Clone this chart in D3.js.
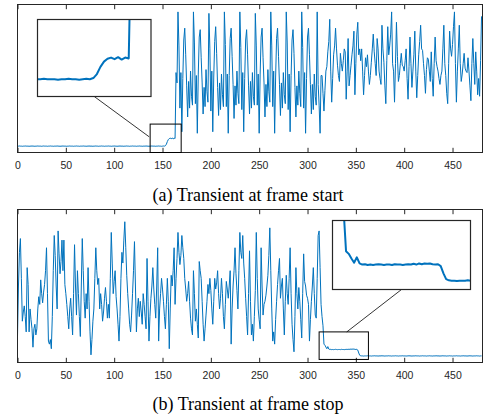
<!DOCTYPE html>
<html>
<head>
<meta charset="utf-8">
<script src="https://cdn.jsdelivr.net/npm/d3@7"></script>
<style>
  body { margin: 0; background: #fff; }
</style>
</head>
<body>
<div id="canvas"></div>
<script>
// sample index runs 0..480, amplitude on a 0..100 scale
const xTicks = [0, 50, 100, 150, 200, 250, 300, 350, 400, 450];
const captions = ["(a) Transient at frame start", "(b) Transient at frame stop"];

// (a) frame start
const startFlat = [
  4.3,4.3,4.4,4.3,4.3,4.2,4.3,4.3,4.4,4.3,4.3,4.3,4.2,4.3,4.3,4.4,4.3,
  4.3,4.2,4.3,4.3,4.4,4.3,4.3,4.3,4.2,4.3,4.4,4.3,4.3,4.3,4.2,4.3,4.3,
  4.4,4.3,4.3,4.2,4.3,4.3,4.3,4.4,4.3,4.3,4.2,4.3,4.3,4.4,4.3,4.3,4.3,
  4.2,4.3,4.3,4.4,4.3,4.3,4.3,4.2,4.3,4.3,4.4,4.3,4.3,4.2,4.3,4.3,4.3,
  4.4,4.3,4.3,4.2,4.3,4.3,4.4,4.3,4.3,4.3,4.2,4.3,4.3,4.4,4.3,4.3,4.2,
  4.3,4.3,4.4,4.3,4.3,4.2,4.3,4.3,4.3,4.4,4.3,4.3,4.2,4.3,4.3,4.4,4.3,
  4.3,4.2,4.3,4.3,4.4,4.3,4.3,4.3,4.2,4.3,4.3,4.4,4.3,4.3,4.2,4.3,4.3,
  4.4,4.3,4.3,4.3,4.2,4.3,4.3,4.4,4.3,4.3,4.2,4.3,4.3,4.3,4.4,4.3,4.3,
  4.2,4.3,4.3,4.4,4.3,4.3,4.3,4.2,4.3,4.3,4.4,4.3,4.3,4.2,4.3,4.4,4.3
];
const startRise = [4.6,5.6,7.4,8.7,9.4,9.7,9.3,9.8,9.2,9.7,9.5,54,47];
const startBurst = [
  95,72,30,54,14,50,76,84,66,45,24,48,30,55,38,32,
  95,74,33,52,13,53,78,83,64,47,26,44,31,56,41,34,
  94,70,28,55,14,51,75,85,67,44,25,47,29,53,39,31,
  95,73,31,53,13,52,77,84,65,46,23,45,32,55,40,33,
  95,71,29,54,14,50,76,83,66,45,26,48,30,54,38,32,
  94,72,32,53,13,53,78,84,64,47,24,46,31,56,41,34,
  95,72,31,55,13,51,77,84,65,46,25,47,30,54,39,33,
  95,74,29,53,14,52,76,83,67,44,24,45,32,55,40,31,
  95,71,30,54,13,50,78,84,66,46,26,46,29,53,38,32
];
const startTail = [
  95,46,32,13,52,52,40,28,42,55,58,68,75,90,55,34,50,66,72,84,
  70,59,52,48,67,60,55,62,70,68,36,55,77,45,52,59,66,72,82,39,
  60,80,88,66,70,62,70,55,39,52,64,58,66,55,46,52,61,70,80,68,
  60,52,77,
  70,55,50,46,86,70,61,45,33,62,
  85,66,72,80,95,60,55,34,60,88,
  65,48,52,60,67,59,58,55,62,70,
  50,36,58,78,60,44,55,66,82,55,
  37,52,66,75,86,70,69,60,52,40,
  56,64,63,55,48,68,50,38,60,78,
  62,58,55,50,46,52,55,70,86,60,
  52,40,33,60,82,70,65,73,85,95,
  60,34,55,70,86,60,48,53,60,67,
  57,55,54,64,55,45,35,60,77,60,
  46,68,55,39,50,38,62,92
];

// (b) frame stop
const stopBurst = [
  17,50,72,81,55,27,33,37,30,20, 62,51,20,35,28,22,10,22,25,18,
  22,35,43,38,54,45,39,46,51,60, 75,45,14,12,15,9,30,60,83,70,
  50,35,86,71,58,66,80,60,80,51, 45,38,30,22,35,42,30,18,45,77,
  50,31,60,45,30,17,50,81,60,40, 29,45,35,62,40,20,5,15,27,35,
  55,75,60,51,55,35,45,38,27,33, 42,49,40,29,38,29,55,85,65,45,
  53,60,43,35,25,14,30,55,72,65, 80,92,75,57,45,35,25,20,31,45,
  60,79,50,20,35,42,30,40,33,25, 45,38,30,22,68,40,14,30,42,50,
  62,48,38,29,50,75,14,35,45,55, 48,40,30,22,38,55,40,9,35,57,
  50,60,75,38,55,68,85,72,64,70, 83,75,68,55,48,40,45,53,40,29,
  22,18,60,45,27,35,25,16,66,60, 55,40,25,14,22,31,40,51,45,55,
  47,35,25,40,55,48,52,60,45,35, 42,55,45,30,22,38,53,48,42,50,
  60,12,35,50,60,75,58,47,35,60, 85,72,68,83,65,55,42,30,18,45,
  73,40,18,25,14,30,47,85,55,35, 28,22,75,50,31,38,40,44,50,57,
  70,88,60,35,14,20,12,28,40,51, 60,68,42,50,55,35,18,40,57,45,
  38,55,75,45,25,15,7,30,62,45, 35,49,40,28,16,45,71,53,50,44,
  42,38,14,28,40,50,62,45,31,29, 55,83,86,62,38,30,24
];
const stopTransient = [
  12.0,11.3,10.1,9.0,10.4,8.8,8.5,8.6,8.4,8.5,
  8.4,8.5,8.6,8.5,8.4,8.5,8.5,8.4,8.6,8.5,
  8.5,8.4,8.5,8.6,8.5,8.7,8.5,8.8,8.6,8.8,
  8.7,8.8,8.6,8.5,8.6,8.1,6.2,4.7,4.4
];
const stopFlat = [
  4.3,4.3,4.2,4.3,4.3,4.3,4.4,4.3,4.3,4.3, 4.2,4.3,4.3,4.4,4.3,4.3,4.3,4.2,4.3,4.3,
  4.3,4.4,4.3,4.3,4.2,4.3,4.3,4.3,4.4,4.3, 4.3,4.2,4.3,4.3,4.3,4.4,4.3,4.3,4.2,4.3,
  4.3,4.3,4.4,4.3,4.3,4.3,4.2,4.3,4.3,4.4, 4.3,4.3,4.2,4.3,4.3,4.3,4.4,4.3,4.3,4.3,
  4.2,4.3,4.3,4.4,4.3,4.3,4.3,4.2,4.3,4.3, 4.4,4.3,4.3,4.2,4.3,4.3,4.3,4.4,4.3,4.3,
  4.3,4.2,4.3,4.3,4.4,4.3,4.3,4.3,4.2,4.3, 4.3,4.4,4.3,4.3,4.2,4.3,4.3,4.3,4.4,4.3,
  4.3,4.3,4.2,4.3,4.3,4.4,4.3,4.3,4.3,4.2, 4.3,4.3,4.4,4.3,4.3,4.2,4.3,4.3,4.3,4.4,
  4.3,4.3,4.2,4.3,4.3
];

const startSignal = startFlat.concat(startRise, startBurst, startTail);
const stopSignal = stopBurst.concat(stopTransient, stopFlat);

const width = 487;
const height = 418;
const blue = "#0072BD";
const ink = "#262626";

const svg = d3.select("#canvas").append("svg")
  .attr("width", width)
  .attr("height", height)
  .style("display", "block");

const left = 17.5, right = 482.5;
const x = d3.scaleLinear().domain([0, 481]).range([left, right]);

function panel(data, top, bottom, win, box, hook, caption, capY, id) {
  const y = d3.scaleLinear().domain([0, 100]).range([bottom, top]);
  const g = svg.append("g");

  const line = d3.line().x((d, i) => x(i)).y(d => y(d));
  g.append("path").datum(data)
    .attr("fill", "none").attr("stroke", blue).attr("stroke-width", 1)
    .attr("stroke-linejoin", "round")
    .attr("d", line);

  // axis frame + ticks
  g.append("g").attr("transform", `translate(0,${bottom})`)
    .call(d3.axisBottom(x).tickValues(xTicks).tickSizeInner(-4.7).tickSizeOuter(0).tickPadding(9))
    .call(a => a.select(".domain").remove())
    .call(a => a.selectAll("line").attr("stroke", ink))
    .call(a => a.selectAll("text").attr("fill", ink)
      .style("font-family", "'Liberation Sans', Arial, sans-serif").style("font-size", "10.5px"));
  g.append("g").attr("transform", `translate(0,${top})`)
    .call(d3.axisTop(x).tickValues(xTicks).tickSizeInner(-4.7).tickSizeOuter(0).tickFormat(""))
    .call(a => a.select(".domain").remove())
    .call(a => a.selectAll("line").attr("stroke", ink));
  g.append("rect")
    .attr("x", left).attr("y", top).attr("width", right - left).attr("height", bottom - top)
    .attr("fill", "none").attr("stroke", ink).attr("stroke-width", 1);

  // zoom window on the main axes
  g.append("rect")
    .attr("x", x(win.x0)).attr("y", y(win.y1))
    .attr("width", x(win.x1) - x(win.x0)).attr("height", y(win.y0) - y(win.y1))
    .attr("fill", "none").attr("stroke", "#000").attr("stroke-width", 1);

  g.append("line")
    .attr("x1", box.x + box.w / 2).attr("y1", box.y + box.h)
    .attr("x2", x(hook.x)).attr("y2", y(hook.y))
    .attr("stroke", "#000").attr("stroke-width", 0.8);

  // magnified inset
  const ix = d3.scaleLinear().domain([win.x0, win.x1]).range([box.x, box.x + box.w]);
  const iy = d3.scaleLinear().domain([win.y0, win.y1]).range([box.y + box.h, box.y]);
  svg.append("clipPath").attr("id", id)
    .append("rect").attr("x", box.x).attr("y", box.y).attr("width", box.w).attr("height", box.h);
  g.append("rect")
    .attr("x", box.x).attr("y", box.y).attr("width", box.w).attr("height", box.h)
    .attr("fill", "#fff");
  g.append("path").datum(data)
    .attr("clip-path", `url(#${id})`)
    .attr("fill", "none").attr("stroke", blue).attr("stroke-width", 2)
    .attr("stroke-linejoin", "round")
    .attr("d", d3.line().x((d, i) => ix(i)).y(d => iy(d)));
  g.append("rect")
    .attr("x", box.x).attr("y", box.y).attr("width", box.w).attr("height", box.h)
    .attr("fill", "none").attr("stroke", ink).attr("stroke-width", 1.2);

  svg.append("text")
    .attr("x", 248).attr("y", capY)
    .attr("text-anchor", "middle")
    .style("font-family", "'Liberation Serif', 'Times New Roman', serif")
    .style("font-size", "18px")
    .attr("fill", "#000")
    .text(caption);
}

panel(startSignal, 4.5, 152.5,
  { x0: 137.2, x1: 169.3, y0: 0, y1: 19.2 },
  { x: 37.5, y: 19.5, w: 113.5, h: 77 },
  { x: 136.2, y: 10.6 },
  captions[0], 201, "clipA");

panel(stopSignal, 209.5, 362.5,
  { x0: 312, x1: 363, y0: 2, y1: 20 },
  { x: 332.5, y: 220.5, w: 138, h: 69 },
  { x: 340.6, y: 20 },
  captions[1], 410, "clipB");
</script>
</body>
</html>
